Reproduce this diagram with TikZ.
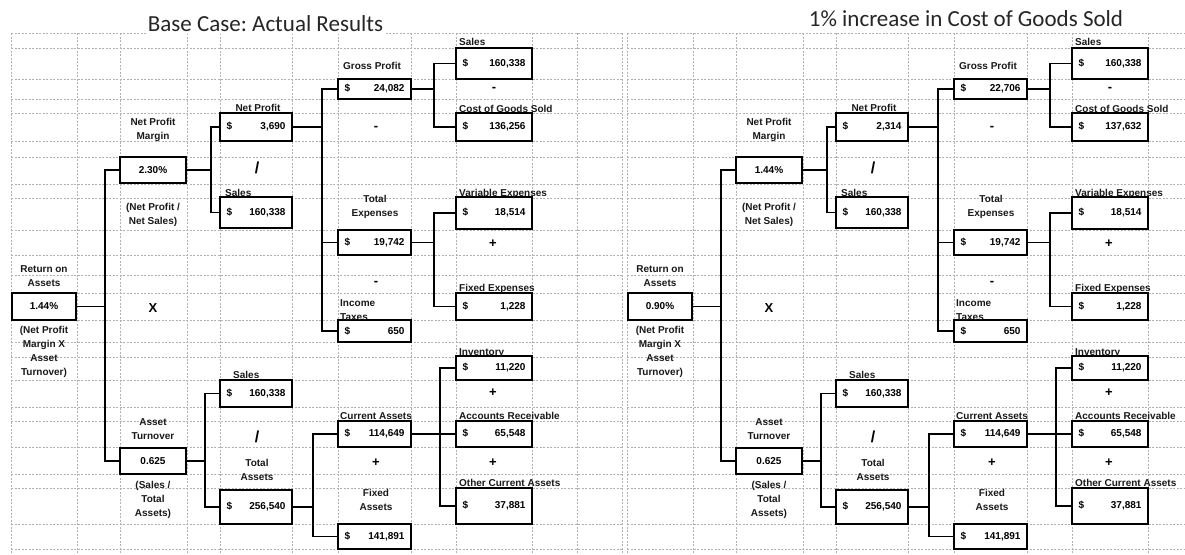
\documentclass[tikz,border=0pt]{standalone}
\usepackage{fontspec}
\setmainfont{Liberation Sans}
\newfontfamily\titlefont{Carlito}
\usetikzlibrary{shadows}
\frenchspacing
\tikzset{
  grid line/.style={draw=gray!60, line width=0.5pt, dash pattern=on 2pt off 1.5pt},
  link/.style={draw=black, line width=1.8pt},
  vbox/.style 2 args={draw=black, line width=1.3pt, fill=white, text=black,
    minimum width=#1pt, minimum height=#2pt, inner sep=0pt,
    drop shadow={shadow xshift=1.3pt, shadow yshift=-1.3pt, fill=black!80, opacity=1},
    font=\fontsize{10}{12}\selectfont\bfseries},
  lbl/.style={inner sep=0pt, text=black!90, font=\fontsize{10}{14}\selectfont\bfseries, align=center},
  lblw/.style={inner sep=0pt, text=black!90, font=\fontsize{10}{14}\selectfont\bfseries, anchor=base west},
  lblc/.style={inner sep=0pt, text=black!90, font=\fontsize{10}{14}\selectfont\bfseries, anchor=base},
  op/.style={inner sep=0pt, text=black, font=\fontsize{13}{14}\selectfont\bfseries},
  bigop/.style={inner sep=0pt, text=black, font=\fontsize{16}{16}\selectfont\bfseries},
  title/.style={inner sep=2pt, fill=white, text=black!85, font=\titlefont\fontsize{23}{26}\selectfont, anchor=base},
}
\newcommand\dol[2]{\makebox[\dimexpr#1pt-13pt\relax]{\$\hfill#2}}
\newcommand\drawpanel[5]{%
  \foreach \gx in {11,77,120,187,220,292,338,411,456,532,577,622}
    \draw[grid line] (\gx,33) -- (\gx,554);
  \foreach \gy in {33,48,79,99,113,141,157,184,198,230,255,275,293,320,342,357,380,407,421,447,474,488,524,549}
    \draw[grid line] (11,\gy) -- (622,\gy);
  % boxes
  \node[vbox={64}{27}] (roa) at (44,306.5) {#1};
  \node[vbox={66}{26}] (npm) at (153,170) {#2};
  \node[vbox={66}{26}] (atn) at (153,461) {0.625};
  \node[vbox={72}{28}] (np) at (256,127) {\dol{72}{#3}};
  \node[vbox={72}{31}] (sa) at (256,212.5) {\dol{72}{160,338}};
  \node[vbox={72}{27}] (sb) at (256,393.5) {\dol{72}{160,338}};
  \node[vbox={72}{34}] (ta) at (256,507) {\dol{72}{256,540}};
  \node[vbox={73}{20}] (gp) at (374.5,89) {\dol{73}{#4}};
  \node[vbox={73}{25}] (te) at (374.5,242.5) {\dol{73}{19,742}};
  \node[vbox={73}{22}] (it) at (374.5,331) {\dol{73}{650}};
  \node[vbox={73}{26}] (ca) at (374.5,434) {\dol{73}{114,649}};
  \node[vbox={73}{25}] (fa) at (374.5,536.5) {\dol{73}{141,891}};
  \node[vbox={76}{31}] (sc) at (494,63.5) {\dol{76}{160,338}};
  \node[vbox={76}{28}] (cg) at (494,127) {\dol{76}{#5}};
  \node[vbox={76}{32}] (ve) at (494,213) {\dol{76}{18,514}};
  \node[vbox={76}{27}] (fe) at (494,306.5) {\dol{76}{1,228}};
  \node[vbox={76}{24}] (inv) at (494,368) {\dol{76}{11,220}};
  \node[vbox={76}{26}] (ar) at (494,434) {\dol{76}{65,548}};
  \node[vbox={76}{36}] (oc) at (494,506) {\dol{76}{37,881}};
  % connectors
  \coordinate (j1) at (105,306.5);
  \draw[link] (roa.east) -- (j1);
  \draw[link] (npm.west) -| (j1) |- (atn.west);
  \coordinate (j2) at (211,170);
  \draw[link] (npm.east) -- (j2);
  \draw[link] (np.west) -| (j2) |- (sa.west);
  \coordinate (j3) at (322,127);
  \draw[link] (np.east) -- (j3);
  \draw[link] (gp.west) -| (j3) |- (it.west);
  \draw[link] (te.west) -- (te.west -| j3);
  \coordinate (j4) at (434,89);
  \draw[link] (gp.east) -- (j4);
  \draw[link] (sc.west) -| (j4) |- (cg.west);
  \coordinate (j5) at (434,242.5);
  \draw[link] (te.east) -- (j5);
  \draw[link] (ve.west) -| (j5) |- (fe.west);
  \coordinate (j6) at (205,461);
  \draw[link] (atn.east) -- (j6);
  \draw[link] (sb.west) -| (j6) |- (ta.west);
  \coordinate (j7) at (313,507);
  \draw[link] (ta.east) -- (j7);
  \draw[link] (ca.west) -| (j7) |- (fa.west);
  \coordinate (j8) at (440,434);
  \draw[link] (ca.east) -- (ar.west);
  \draw[link] (inv.west) -| (j8) |- (oc.west);
  % labels
  \node[lbl] (roaL) at (44,276) {Return on\\Assets};
  \node[lbl] (roaN) at (44,352) {(Net Profit\\Margin X\\Asset\\Turnover)};
  \node[lbl] (npmL) at (153,130) {Net Profit\\Margin};
  \node[lbl] (npmN) at (153,215) {(Net Profit /\\Net Sales)};
  \node[op] (opX) at (153,308) {X};
  \node[lbl] (atL) at (153,429) {Asset\\Turnover};
  \node[lbl] (atN) at (153,500) {(Sales /\\Total\\Assets)};
  \node[lblc] (npL) at (258,111.5) {Net Profit};
  \node[bigop] (opD1) at (257,168) {/};
  \node[lblw] (saL) at (225,196) {Sales};
  \node[lblw] (sbL) at (233,378) {Sales};
  \node[bigop] (opD2) at (257,437) {/};
  \node[lbl] (taL) at (257,469.5) {Total\\Assets};
  \node[lblc] (gpL) at (372,69) {Gross Profit};
  \node[op] (opM1) at (376,128) {-};
  \node[lbl] (teL) at (375,207) {Total\\Expenses};
  \node[op] (opM2) at (376,283) {-};
  \node[lbl, anchor=west, align=left] (itL) at (340,310) {Income\\Taxes};
  \node[lblw] (caL) at (340,419) {Current Assets};
  \node[op] (opP1) at (376,463) {+};
  \node[lbl] (faL) at (376,499.5) {Fixed\\Assets};
  \node[lblw] (scL) at (459,45) {Sales};
  \node[op] (opM3) at (494,89) {-};
  \node[lblw] (cgL) at (459,112) {Cost of Goods Sold};
  \node[lblw] (veL) at (459,196) {Variable Expenses};
  \node[op] (opP2) at (493,244) {+};
  \node[lblw] (feL) at (459,291) {Fixed Expenses};
  \node[lblw] (invL) at (459,355) {Inventory};
  \node[op] (opP3) at (493,393) {+};
  \node[lblw] (arL) at (459,419) {Accounts Receivable};
  \node[op] (opP4) at (493,463) {+};
  \node[lblw] (ocL) at (459,486) {Other Current Assets};
}
\begin{document}
\begin{tikzpicture}[x=1pt,y=-1pt]
  \useasboundingbox (0,0) rectangle (1185,554);
  \fill[white] (0,0) rectangle (1185,554);
  \clip (0,0) rectangle (1185,554);
  \begin{scope}[name prefix=L-]
    \drawpanel{1.44\%}{2.30\%}{3,690}{24,082}{136,256}
  \end{scope}
  \begin{scope}[xshift=616pt, name prefix=R-]
    \drawpanel{0.90\%}{1.44\%}{2,314}{22,706}{137,632}
  \end{scope}
  \node[title] (titleL) at (265.5,31.5) {Base Case: Actual Results};
  \node[title] (titleR) at (966,27) {1\% increase in Cost of Goods Sold};
\end{tikzpicture}
\end{document}
